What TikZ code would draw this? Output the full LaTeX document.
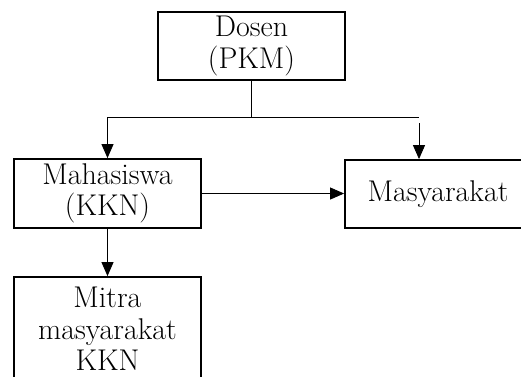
\documentclass[tikz,border=0pt]{standalone}
\usepackage{tikz}
\usetikzlibrary{arrows.meta, positioning}

\tikzset{
  unitbox/.style={draw, line width=1.8pt, align=center, inner sep=0pt,
    font=\fontsize{30}{31.5}\selectfont},
  link/.style={line width=0.9pt},
  linkarrow/.style={line width=0.9pt, -{Triangle[width=12pt,length=14pt]}}
}

\begin{document}
\begin{tikzpicture}[x=1pt, y=-1pt]
  \useasboundingbox (0,0) rectangle (521,376);
  \clip (0,0) rectangle (521,376);
  % boxes: centre at the middle of each frame
  \node[unitbox, minimum width=187pt, minimum height=68pt] (dosen) at (251.5,46) {Dosen\\(PKM)};
  \node[unitbox, minimum width=187pt, minimum height=69pt] (mahasiswa) at (107.5,193.5) {Mahasiswa\\(KKN)};
  \node[unitbox, minimum width=187pt, minimum height=68pt, text width=170pt, align=left] (masyarakat) at (438.5,194) {\hspace*{14pt}Masyarakat};
  \node[unitbox, minimum width=187pt, minimum height=104pt] (mitra) at (107.5,329) {Mitra\\masyarakat\\KKN};
  % branch from Dosen
  \coordinate (split) at (251.5,117);
  \coordinate (leftend) at (107.5,117);
  \coordinate (rightend) at (419,117);
  \coordinate (rightdrop) at (419,123);
  \draw[link] (dosen.south) -- (split);
  \draw[link] (leftend) -- (rightend);
  \draw[linkarrow] (leftend) -- (mahasiswa.north);
  \draw[linkarrow] (rightdrop) -- (rightdrop |- masyarakat.north);
  % from Mahasiswa
  \draw[linkarrow] (mahasiswa.east) -- (mahasiswa.east -| masyarakat.west);
  \draw[linkarrow] (mahasiswa.south) -- (mitra.north);
\end{tikzpicture}
\end{document}
